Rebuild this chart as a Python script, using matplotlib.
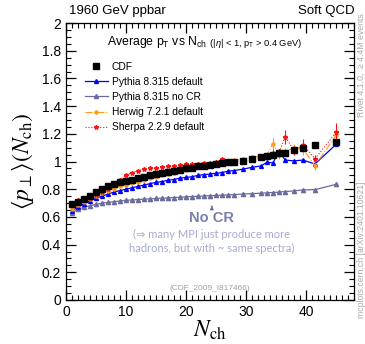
import numpy as np
import matplotlib
matplotlib.use("Agg")
import matplotlib.pyplot as plt
from matplotlib.ticker import MultipleLocator
from matplotlib.lines import Line2D

plt.rcParams['font.family'] = ['Liberation Sans', 'DejaVu Sans']
plt.rcParams['mathtext.fontset'] = 'custom'
plt.rcParams['mathtext.rm'] = 'Liberation Sans'
plt.rcParams['mathtext.it'] = 'Liberation Sans:italic'

# bin centres (N_ch)
n_ch = [1, 2, 3, 4, 5, 6, 7, 8, 9, 10, 11, 12, 13, 14, 15, 16, 17, 18, 19, 20,
        21, 22, 23, 24, 25, 26, 27, 28, 29.5, 31, 32.5, 33.5, 34.5, 35.5, 36.5,
        38, 39.5, 41.5, 45]

cdf = [0.69, 0.71, 0.73, 0.75, 0.78, 0.80, 0.82, 0.835, 0.85, 0.86, 0.87, 0.88,
       0.89, 0.90, 0.91, 0.915, 0.925, 0.935, 0.94, 0.95, 0.955, 0.965, 0.97,
       0.975, 0.985, 0.99, 0.995, 1.00, 1.005, 1.02, 1.03, 1.04, 1.05, 1.06,
       1.065, 1.08, 1.10, 1.12, 1.14]

py_default = [0.645, 0.67, 0.695, 0.715, 0.735, 0.75, 0.765, 0.78, 0.79, 0.80,
              0.81, 0.82, 0.83, 0.84, 0.85, 0.855, 0.865, 0.87, 0.88, 0.885,
              0.89, 0.90, 0.905, 0.91, 0.915, 0.92, 0.93, 0.935, 0.945, 0.958,
              0.968, 0.995, 0.99, 1.078, 1.01, 1.005, 1.01, 0.982, 1.124]

py_nocr = [0.63, 0.655, 0.67, 0.68, 0.69, 0.70, 0.705, 0.71, 0.715, 0.72,
           0.722, 0.725, 0.728, 0.73, 0.733, 0.735, 0.737, 0.74, 0.742, 0.745,
           0.747, 0.749, 0.751, 0.753, 0.755, 0.757, 0.759, 0.761, 0.765, 0.768,
           0.771, 0.774, 0.776, 0.779, 0.783, 0.788, 0.795, 0.797, 0.835]

herwig = [0.66, 0.685, 0.71, 0.73, 0.75, 0.77, 0.79, 0.805, 0.82, 0.83, 0.845,
          0.855, 0.87, 0.88, 0.89, 0.90, 0.91, 0.92, 0.93, 0.94, 0.95, 0.96,
          0.965, 0.975, 0.985, 0.99, 1.0, 1.01, 1.02, 1.03, 1.04, 1.05, 1.13,
          1.05, 1.07, 1.10, 1.09, 0.97, 1.19]
herwig_err = [0.005] * 28 + [0.01, 0.015, 0.015, 0.02, 0.04, 0.03, 0.03, 0.03,
                             0.04, 0.03, 0.04]

sherpa = [0.70, 0.72, 0.73, 0.74, 0.76, 0.78, 0.80, 0.84, 0.87, 0.90, 0.92,
          0.935, 0.945, 0.95, 0.955, 0.96, 0.965, 0.97, 0.975, 0.98, 0.98,
          0.985, 0.99, 0.99, 0.995, 1.02, 0.99, 1.0, 1.0, 1.01, 1.03, 1.04,
          1.06, 1.06, 1.18, 1.08, 1.12, 1.02, 1.21]
sherpa_err = [0.005] * 28 + [0.01, 0.015, 0.015, 0.02, 0.03, 0.03, 0.05, 0.03,
                             0.04, 0.03, 0.07]

labels = ['CDF', 'Pythia 8.315 default', 'Pythia 8.315 no CR',
          'Herwig 7.2.1 default', 'Sherpa 2.2.9 default']

c_blue = '#0000ff'
c_nocr = '#6b6b9c'
c_orange = '#ff9a1a'
c_red = '#ff1111'

fig = plt.figure(figsize=(3.65, 3.44), dpi=100)
ax = fig.add_axes([0.181, 0.128, 0.789, 0.805])

st_nocr = dict(color=c_nocr, lw=0.9, marker='^', ms=3)
st_blue = dict(color=c_blue, lw=0.9, marker='^', ms=2.8)
st_her = dict(color=c_orange, lw=0.8, ls='-.', marker='o', ms=2.2)
st_she = dict(color=c_red, lw=0.8, ls=':', marker='*', ms=3.2)
st_cdf = dict(ls='none', marker='s', ms=4.5, color='black')

ax.plot(n_ch, py_nocr, zorder=3, **st_nocr)
ax.plot(n_ch, py_default, zorder=4, **st_blue)
ax.errorbar(n_ch, herwig, yerr=herwig_err, elinewidth=0.8, capsize=0, zorder=5, **st_her)
ax.errorbar(n_ch, sherpa, yerr=sherpa_err, elinewidth=0.8, capsize=0, zorder=6, **st_she)
ax.plot(n_ch, cdf, zorder=7, **st_cdf)

ax.set_xlim(0, 48)
ax.set_ylim(0, 2)
ax.xaxis.set_major_locator(MultipleLocator(10))
ax.xaxis.set_minor_locator(MultipleLocator(1))
ax.yaxis.set_minor_locator(MultipleLocator(0.05))
ax.set_yticks(np.arange(0, 2.01, 0.2))
ax.set_yticklabels(['0', '0.2', '0.4', '0.6', '0.8', '1', '1.2', '1.4', '1.6', '1.8', '2'])
ax.tick_params(which='both', direction='in', top=True, right=True, labelsize=10)
ax.tick_params(which='major', length=7, width=0.9)
ax.tick_params(which='minor', length=3.5, width=0.8)
for s in ax.spines.values():
    s.set_linewidth(0.9)

ax.set_xlabel(r'$N_{\mathrm{ch}}$', fontsize=17, math_fontfamily='stix', labelpad=0)
ax.set_ylabel(r'$\langle p_\perp \rangle (N_{\mathrm{ch}})$', fontsize=17,
              math_fontfamily='stix', labelpad=4)

handles = [Line2D([], [], **st_cdf), Line2D([], [], **st_blue), Line2D([], [], **st_nocr),
           Line2D([], [], **st_her), Line2D([], [], **st_she)]
ax.legend(handles, labels, loc='upper left', bbox_to_anchor=(0.05, 0.875),
          frameon=False, fontsize=7.4, handlelength=2.3, handletextpad=0.35,
          labelspacing=0.5, borderaxespad=0)

t1 = ax.text(0.142, 0.92, r'Average p$_\mathrm{T}$ vs N$_\mathrm{ch}$', transform=ax.transAxes,
             fontsize=8.8, va='baseline')
ax.annotate(r' (|$\eta$| < 1, p$_\mathrm{T}$ > 0.4 GeV)', xy=(1, 0), xycoords=t1,
            va='bottom', fontsize=6.7)

fig.text(0.19, 0.958, '1960 GeV ppbar', fontsize=9.5, va='baseline')
fig.text(0.972, 0.958, 'Soft QCD', fontsize=9.5, va='baseline', ha='right')

ax.annotate('', xy=(24.3, 0.70), xytext=(24.3, 0.655),
            arrowprops=dict(arrowstyle='-|>', color=c_nocr, lw=0.8, mutation_scale=5))
ax.text(24.3, 0.562, 'No CR', color='#7a80ae', fontsize=10.5, fontweight='bold',
        ha='center', va='baseline')
ax.text(24.3, 0.47, '(\u21d2 many MPI just produce more', color='#a8abcf', fontsize=8,
        ha='center', va='center', family=['Lato', 'DejaVu Sans'])
ax.text(24.3, 0.375, 'hadrons, but with ~ same spectra)', color='#a8abcf', fontsize=8,
        ha='center', va='center', family=['Lato', 'DejaVu Sans'])
ax.text(24.0, 0.08, '(CDF_2009_I817466)', color='#a0a0a0', fontsize=6, ha='center', va='center')

fig.text(0.99, 0.81, 'Rivet 4.1.0,  \u2265 4.4M events', rotation=90, color='#aaaaaa',
         fontsize=6.3, ha='center', va='center')
fig.text(0.99, 0.275, 'mcplots.cern.ch [arXiv:2401.10621]', rotation=90, color='#aaaaaa',
         fontsize=6.2, ha='center', va='center')

fig.savefig('out.png', dpi=100)
